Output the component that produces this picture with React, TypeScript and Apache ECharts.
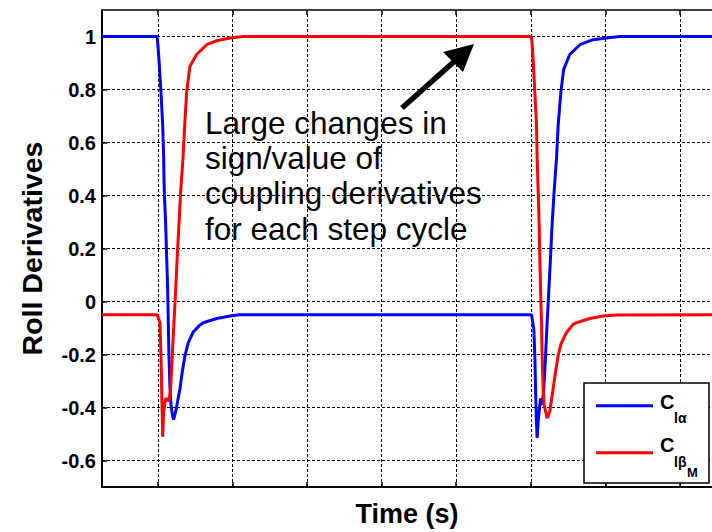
import React, { useEffect, useRef } from 'react';
import * as echarts from 'echarts';

// Grid tick positions (time axis has unlabeled ticks)
const xTicks = [1, 2, 3, 4, 5, 6, 7, 8];
const yTicks = [-0.6, -0.4, -0.2, 0, 0.2, 0.4, 0.6, 0.8, 1];

// C_l_alpha (blue)
const alphaTime = [0.25, 0.991, 1.014, 1.041, 1.064, 1.077, 1.085, 1.104, 1.117, 1.131, 1.139, 1.148, 1.162, 1.175, 1.192, 1.21, 1.242, 1.296, 1.326, 1.363, 1.407, 1.474, 1.554, 1.608, 1.788, 1.966, 2.1, 6.01, 6.041, 6.054, 6.064, 6.075, 6.085, 6.1, 6.131, 6.152, 6.175, 6.198, 6.219, 6.242, 6.265, 6.286, 6.313, 6.345, 6.367, 6.403, 6.44, 6.523, 6.658, 6.836, 7.015, 7.194, 8.43];
const alphaValue = [1, 1, 0.913, 0.789, 0.665, 0.541, 0.416, 0.292, 0.168, 0.044, -0.08, -0.204, -0.328, -0.39, -0.425, -0.446, -0.41, -0.328, -0.266, -0.204, -0.155, -0.115, -0.091, -0.08, -0.064, -0.055, -0.05, -0.05, -0.105, -0.204, -0.328, -0.45, -0.515, -0.45, -0.366, -0.39, -0.328, -0.204, -0.08, 0.044, 0.168, 0.292, 0.416, 0.541, 0.665, 0.789, 0.875, 0.932, 0.969, 0.988, 0.994, 1, 1];

// C_l_beta_M (red)
const betaTime = [0.25, 0.991, 1.027, 1.041, 1.05, 1.064, 1.075, 1.104, 1.13, 1.148, 1.171, 1.192, 1.215, 1.238, 1.259, 1.282, 1.305, 1.336, 1.359, 1.385, 1.43, 1.519, 1.653, 1.788, 1.966, 2.144, 6.01, 6.032, 6.054, 6.077, 6.085, 6.099, 6.112, 6.121, 6.131, 6.144, 6.152, 6.166, 6.179, 6.219, 6.255, 6.3, 6.332, 6.367, 6.405, 6.479, 6.568, 6.613, 6.792, 6.97, 7.149, 8.43];
const betaValue = [-0.05, -0.05, -0.08, -0.204, -0.328, -0.51, -0.42, -0.366, -0.37, -0.375, -0.328, -0.204, -0.08, 0.044, 0.168, 0.292, 0.416, 0.541, 0.665, 0.789, 0.888, 0.932, 0.969, 0.984, 0.994, 1, 1, 0.913, 0.789, 0.665, 0.541, 0.416, 0.292, 0.168, 0.044, -0.08, -0.204, -0.328, -0.39, -0.44, -0.415, -0.328, -0.266, -0.204, -0.16, -0.117, -0.086, -0.08, -0.064, -0.055, -0.051, -0.05];

const annotationLines = ['Large changes in', 'sign/value of', 'coupling derivatives', 'for each step cycle'];

const FONT = '"Liberation Sans", Arial, Helvetica, sans-serif';

const zip = (t: number[], v: number[]) => t.map((x, i) => [x, v[i]]);

export default function App() {
  const ref = useRef<HTMLDivElement>(null);
  useEffect(() => {
    const chart = echarts.init(ref.current!, null, { renderer: 'svg' });
    const gridData = [
      ...xTicks.map((v) => ({ xAxis: v })),
      ...yTicks.map((v) => ({ yAxis: v })),
    ];
    chart.setOption({
      animation: false,
      backgroundColor: '#fff',
      textStyle: { fontFamily: FONT },
      grid: { left: 102, top: 10, width: 610, height: 482, containLabel: false },
      xAxis: [
        {
          type: 'value', position: 'bottom', min: 0.25, max: 8.43,
          name: 'Time (s)', nameLocation: 'middle', nameGap: 13,
          nameTextStyle: { fontFamily: FONT, fontWeight: 'bold', fontSize: 27, color: '#000' },
          axisLine: { show: true, onZero: false, lineStyle: { color: '#000', width: 2 } },
          axisTick: { show: true, inside: true, length: 5, customValues: xTicks, lineStyle: { color: '#000', width: 1.5 } },
          axisLabel: { show: false, customValues: xTicks },
          splitLine: { show: false },
        },
        {
          type: 'value', position: 'top', min: 0.25, max: 8.43,
          axisLine: { show: true, onZero: false, lineStyle: { color: '#000', width: 1.5 } },
          axisTick: { show: true, inside: true, length: 5, customValues: xTicks, lineStyle: { color: '#000', width: 1.5 } },
          axisLabel: { show: false },
          splitLine: { show: false },
        },
      ],
      yAxis: {
        type: 'value', min: -0.7, max: 1.1,
        name: 'Roll Derivatives', nameLocation: 'middle', nameGap: 56,
        nameTextStyle: { fontFamily: FONT, fontWeight: 'bold', fontSize: 28.5, color: '#000' },
        axisLine: { show: true, onZero: false, lineStyle: { color: '#000', width: 2 } },
        axisTick: { show: true, inside: true, length: 5, customValues: yTicks, lineStyle: { color: '#000', width: 1.5 } },
        axisLabel: { show: true, customValues: yTicks, margin: 6, fontFamily: FONT, fontWeight: 'bold', fontSize: 20, color: '#000' },
        splitLine: { show: false },
      },
      series: [
        {
          name: 'Clα', type: 'line', xAxisIndex: 0, data: zip(alphaTime, alphaValue),
          showSymbol: false, symbol: 'none', lineStyle: { color: '#0000ff', width: 3 }, itemStyle: { color: '#0000ff' }, z: 3,
          markLine: {
            silent: true, symbol: ['none', 'none'], z: 1, animation: false,
            label: { show: false },
            lineStyle: { color: '#000', width: 1, type: [3, 2] as any, opacity: 1 },
            emphasis: { disabled: true },
            data: gridData,
          },
        },
        {
          name: 'ClβM', type: 'line', xAxisIndex: 0, data: zip(betaTime, betaValue),
          showSymbol: false, symbol: 'none', lineStyle: { color: '#ff0000', width: 3 }, itemStyle: { color: '#ff0000' }, z: 4,
        },
      ],
      graphic: [
        {
          type: 'text', left: 205, top: 105, z: 50,
          style: { text: annotationLines.join('\n'), font: `31.5px ${FONT}`, fill: '#000', lineHeight: 35.3 },
        },
        { type: 'line', z: 50, shape: { x1: 402, y1: 108, x2: 457, y2: 59 }, style: { stroke: '#000', lineWidth: 5.5 } },
        { type: 'polygon', z: 50, shape: { points: [[474, 44], [443, 52], [463, 72]] }, style: { fill: '#000' } },
        { type: 'rect', z: 60, shape: { x: 584, y: 383, width: 125, height: 100 }, style: { fill: '#fff', stroke: '#000', lineWidth: 1.5 } },
        { type: 'line', z: 61, shape: { x1: 596, y1: 405.7, x2: 653, y2: 405.7 }, style: { stroke: '#0000ff', lineWidth: 3 } },
        { type: 'line', z: 61, shape: { x1: 596, y1: 452.7, x2: 653, y2: 452.7 }, style: { stroke: '#ff0000', lineWidth: 3 } },
        { type: 'text', z: 61, x: 660, y: 402, style: { text: 'C', font: `bold 20px ${FONT}`, fill: '#000', verticalAlign: 'middle' } },
        { type: 'text', z: 61, x: 674, y: 418, style: { text: 'lα', font: `bold 14px ${FONT}`, fill: '#000', verticalAlign: 'middle' } },
        { type: 'text', z: 61, x: 660, y: 445.4, style: { text: 'C', font: `bold 20px ${FONT}`, fill: '#000', verticalAlign: 'middle' } },
        { type: 'text', z: 61, x: 674, y: 461.6, style: { text: 'lβ', font: `bold 14px ${FONT}`, fill: '#000', verticalAlign: 'middle' } },
        { type: 'text', z: 61, x: 687, y: 472.2, style: { text: 'M', font: `bold 13px ${FONT}`, fill: '#000', verticalAlign: 'middle' } },
      ],
    });
    return () => chart.dispose();
  }, []);
  return <div ref={ref} style={{ position: 'absolute', left: 0, top: 0, width: 712, height: 532 }} />;
}
